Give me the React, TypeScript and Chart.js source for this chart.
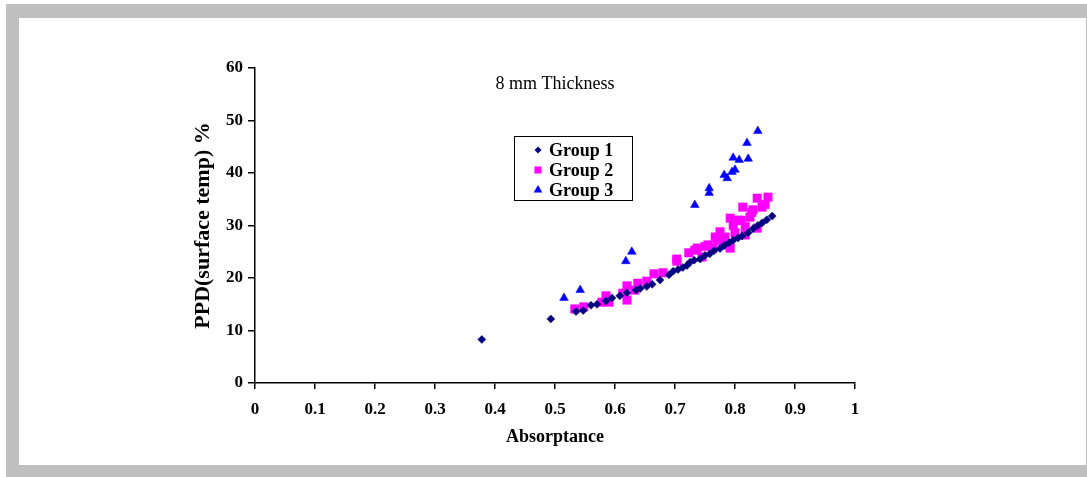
import { useEffect, useRef } from 'react';
import { Chart, registerables } from 'chart.js';

Chart.register(...registerables);

const seriesNames = ['Group 1', 'Group 2', 'Group 3'];
const seriesColors = ['#000080', '#FF00FF', '#0000FF'];

const group1X = [0.378, 0.493, 0.535, 0.547, 0.56, 0.57, 0.585, 0.595, 0.608, 0.62, 0.635, 0.642, 0.653, 0.662, 0.675, 0.69, 0.697, 0.705, 0.713, 0.72, 0.725, 0.732, 0.742, 0.75, 0.758, 0.765, 0.775, 0.782, 0.79, 0.797, 0.805, 0.812, 0.822, 0.83, 0.838, 0.845, 0.853, 0.862];
const group1Y = [8.3, 12.2, 13.6, 13.8, 14.8, 15.0, 15.6, 16.2, 16.6, 17.2, 17.7, 18.0, 18.4, 18.8, 19.6, 20.6, 21.3, 21.6, 22.0, 22.4, 23.0, 23.4, 23.6, 24.3, 24.6, 25.2, 25.6, 26.2, 26.7, 27.2, 27.6, 28.0, 28.6, 29.4, 30.0, 30.5, 31.1, 31.8];

const group2X = [0.533, 0.548, 0.578, 0.585, 0.59, 0.613, 0.62, 0.62, 0.633, 0.638, 0.653, 0.665, 0.68, 0.703, 0.703, 0.723, 0.733, 0.737, 0.745, 0.75, 0.755, 0.763, 0.767, 0.77, 0.775, 0.78, 0.783, 0.785, 0.792, 0.792, 0.797, 0.8, 0.805, 0.81, 0.813, 0.817, 0.817, 0.825, 0.828, 0.83, 0.837, 0.837, 0.845, 0.85, 0.855];
const group2Y = [14.1, 14.5, 15.4, 16.6, 15.4, 17.1, 18.5, 15.8, 17.7, 19.0, 19.4, 20.8, 21.0, 23.2, 23.6, 24.8, 25.3, 25.7, 24.0, 26.0, 26.3, 25.7, 27.8, 27.2, 28.8, 26.7, 27.8, 26.3, 25.7, 31.4, 30.0, 28.6, 31.0, 31.0, 33.5, 28.2, 29.8, 31.6, 32.5, 33.0, 29.5, 35.2, 33.5, 34.0, 35.4];

const group3X = [0.515, 0.542, 0.618, 0.628, 0.733, 0.757, 0.757, 0.782, 0.787, 0.795, 0.8, 0.797, 0.807, 0.822, 0.82, 0.838];
const group3Y = [16.2, 17.7, 23.2, 25.0, 33.9, 37.1, 36.2, 39.6, 39.0, 40.2, 40.6, 42.9, 42.5, 42.7, 45.7, 48.0];

const xTickLabels = ['0', '0.1', '0.2', '0.3', '0.4', '0.5', '0.6', '0.7', '0.8', '0.9', '1'];
const yTickLabels = ['0', '10', '20', '30', '40', '50', '60'];

const chartTitle = '8 mm Thickness';
const xAxisTitle = 'Absorptance';
const yAxisTitle = 'PPD(surface temp) %';

const SERIF = "'Liberation Serif', 'Times New Roman', serif";

function toPoints(xs: number[], ys: number[]) {
  return xs.map((x, i) => ({ x, y: ys[i] }));
}

const framePlugin = {
  id: 'frame',
  beforeDraw(chart: any) {
    const ctx = chart.ctx;
    ctx.save();
    ctx.fillStyle = '#C0C0C0';
    ctx.fillRect(6, 4, 1081, 473);
    ctx.fillStyle = '#FFFFFF';
    ctx.fillRect(19, 18, 1067, 447);
    ctx.restore();
  },
};

function drawMarker(ctx: CanvasRenderingContext2D, style: string, x: number, y: number, r: number) {
  ctx.beginPath();
  if (style === 'rectRot') {
    ctx.moveTo(x, y - r);
    ctx.lineTo(x + r, y);
    ctx.lineTo(x, y + r);
    ctx.lineTo(x - r, y);
  } else if (style === 'rect') {
    const s = r * Math.SQRT1_2;
    ctx.rect(x - s, y - s, 2 * s, 2 * s);
  } else {
    ctx.moveTo(x, y - r);
    ctx.lineTo(x + r * 0.866, y + r * 0.5);
    ctx.lineTo(x - r * 0.866, y + r * 0.5);
  }
  ctx.closePath();
  ctx.fill();
}

const overlayPlugin = {
  id: 'overlay',
  afterDraw(chart: any) {
    const ctx = chart.ctx;
    const area = chart.chartArea;
    ctx.save();
    ctx.fillStyle = '#000';
    ctx.font = `18px ${SERIF}`;
    ctx.textAlign = 'center';
    ctx.textBaseline = 'middle';
    ctx.fillText(chartTitle, area.left + 300, area.top + 16);

    const lx = 514, ly = 136, lw = 118, lh = 64;
    ctx.fillStyle = '#fff';
    ctx.fillRect(lx, ly, lw, lh);
    ctx.strokeStyle = '#000';
    ctx.lineWidth = 1;
    ctx.strokeRect(lx + 0.5, ly + 0.5, lw, lh);
    ctx.font = `bold 18px ${SERIF}`;
    ctx.textAlign = 'left';
    const sizes = [3.5, 5, 5];
    chart.data.datasets.forEach((ds: any, i: number) => {
      const cy = ly + 14 + i * 20;
      ctx.fillStyle = ds.backgroundColor;
      drawMarker(ctx, ds.pointStyle, 538, cy, sizes[i]);
      ctx.fillStyle = '#000';
      ctx.fillText(ds.label, 549, cy + 1);
    });
    ctx.restore();
  },
};

export default function App() {
  const ref = useRef<HTMLCanvasElement | null>(null);
  useEffect(() => {
    if (!ref.current) return;
    const chart = new Chart(ref.current, {
      type: 'scatter',
      data: {
        datasets: [
          {
            label: seriesNames[0],
            data: toPoints(group1X, group1Y),
            pointStyle: 'rectRot',
            pointRadius: 4,
            backgroundColor: seriesColors[0],
            borderColor: seriesColors[0],
            borderWidth: 0.5,
          },
          {
            label: seriesNames[1],
            data: toPoints(group2X, group2Y),
            pointStyle: 'rect',
            pointRadius: 6,
            backgroundColor: seriesColors[1],
            borderColor: seriesColors[1],
            borderWidth: 0.5,
          },
          {
            label: seriesNames[2],
            data: toPoints(group3X, group3Y),
            pointStyle: 'triangle',
            pointRadius: 5,
            backgroundColor: seriesColors[2],
            borderColor: seriesColors[2],
            borderWidth: 0.5,
          },
        ],
      },
      options: {
        responsive: false,
        animation: false,
        events: [],
        layout: { padding: { left: 188, top: 68, right: 232, bottom: 0 } },
        plugins: {
          legend: { display: false },
          tooltip: { enabled: false },
          title: { display: false },
        },
        scales: {
          x: {
            type: 'linear',
            min: 0,
            max: 1,
            afterBuildTicks: (s: any) => {
              s.ticks = xTickLabels.map((t) => ({ value: parseFloat(t) }));
            },
            afterFit: (s: any) => {
              s.height = 94;
            },
            ticks: {
              color: '#000',
              font: { family: SERIF, size: 17, weight: 'bold' },
              padding: 10,
              maxRotation: 0,
              autoSkip: false,
              callback: (_v: any, i: number) => xTickLabels[i],
            },
            grid: { display: true, drawOnChartArea: false, drawTicks: true, tickLength: 6, color: '#000', lineWidth: 1.5 },
            border: { display: true, color: '#000', width: 1.5 },
            title: {
              display: true,
              text: xAxisTitle,
              color: '#000',
              font: { family: SERIF, size: 18, weight: 'bold' },
              padding: { top: 0, bottom: 29 },
            },
          },
          y: {
            type: 'linear',
            min: 0,
            max: 60,
            afterBuildTicks: (s: any) => {
              s.ticks = yTickLabels.map((t) => ({ value: parseFloat(t) }));
            },
            afterFit: (s: any) => {
              s.width = 67;
            },
            ticks: {
              color: '#000',
              font: { family: SERIF, size: 17, weight: 'bold' },
              padding: 5,
              autoSkip: false,
              callback: (_v: any, i: number) => yTickLabels[i],
            },
            grid: { display: true, drawOnChartArea: false, drawTicks: true, tickLength: 7, color: '#000', lineWidth: 1.5 },
            border: { display: true, color: '#000', width: 1.5 },
            title: {
              display: true,
              text: yAxisTitle,
              color: '#000',
              font: { family: SERIF, size: 22, weight: 'bold' },
              padding: { top: 2, bottom: 0 },
            },
          },
        },
      },
      plugins: [framePlugin, overlayPlugin],
    } as any);
    return () => chart.destroy();
  }, []);
  return (
    <div style={{ position: 'absolute', left: 0, top: 0, width: 1087, height: 477, background: '#fff' }}>
      <canvas ref={ref} width={1087} height={477} style={{ display: 'block', width: 1087, height: 477 }} />
    </div>
  );
}
